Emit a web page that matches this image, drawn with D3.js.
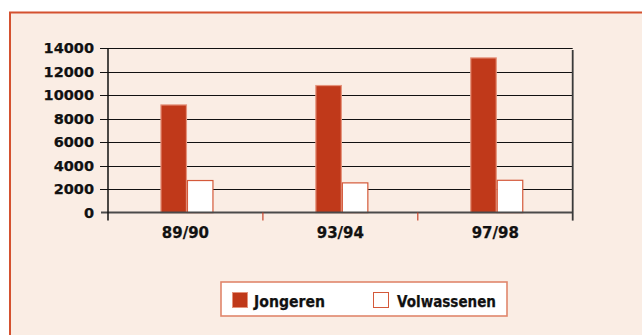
<!DOCTYPE html>
<html>
<head>
<meta charset="utf-8">
<script src="https://cdn.jsdelivr.net/npm/d3@7"></script>
<style>
  html, body { margin: 0; padding: 0; background: #ffffff; }
  svg { display: block; }
  text { font-family: "DejaVu Sans", sans-serif; font-weight: bold; fill: #111; }
</style>
</head>
<body>
<svg id="chart" width="642" height="335"></svg>
<script>
// Periods on the x axis
const periods = ["89/90", "93/94", "97/98"];
// Series names
const seriesNames = ["Jongeren", "Volwassenen"];
// Values per period
const jongeren = [9200, 10850, 13200];
const volwassenen = [2770, 2570, 2790];
// Y axis ticks
const yTicks = [0, 2000, 4000, 6000, 8000, 10000, 12000, 14000];

const svg = d3.select("#chart");

const colors = { Jongeren: "#C0391A", Volwassenen: "#FFFFFF" };
const strokes = { Jongeren: "#E5937C", Volwassenen: "#D4593A" };

// Panel background and frame
svg.append("rect")
  .attr("x", 10).attr("y", 12.5)
  .attr("width", 700).attr("height", 400)
  .attr("fill", "#FAEDE4")
  .attr("stroke", "#D4512F")
  .attr("stroke-width", 2);

const plot = { left: 108, right: 572.7, top: 48, bottom: 212.6 };

const x0 = d3.scaleBand().domain(periods).range([plot.left, plot.right]);
const barW = 26.5;
const x1 = d3.scaleBand().domain(seriesNames).range([x0.bandwidth() / 2 - barW + 1.5, x0.bandwidth() / 2 + barW + 1.5]);
const y = d3.scaleLinear().domain([0, 14000]).range([plot.bottom, plot.top]);

// Horizontal gridlines with left tick marks
svg.append("g")
  .selectAll("line")
  .data(yTicks.filter(d => d !== 0))
  .join("line")
  .attr("x1", plot.left - 8).attr("x2", plot.right)
  .attr("y1", d => Math.round(y(d)) + 0.5).attr("y2", d => Math.round(y(d)) + 0.5)
  .attr("stroke", "#111").attr("stroke-width", 1.2);

// Y axis labels
svg.append("g")
  .selectAll("text")
  .data(yTicks)
  .join("text")
  .attr("x", 94)
  .attr("y", d => y(d) + 5)
  .attr("text-anchor", "end")
  .attr("font-size", 14.5)
  .attr("stroke", "#111").attr("stroke-width", 0.25)
  .text(d => d);

// Bars
const rows = periods.map((p, i) => ({ period: p, Jongeren: jongeren[i], Volwassenen: volwassenen[i] }));
const groups = svg.append("g").selectAll("g")
  .data(rows)
  .join("g")
  .attr("transform", d => `translate(${x0(d.period)},0)`);

groups.selectAll("rect")
  .data(d => seriesNames.map(s => ({ key: s, value: d[s] })))
  .join("rect")
  .attr("x", d => x1(d.key) + 0.5)
  .attr("y", d => y(d.value) + 0.5)
  .attr("width", x1.bandwidth() - 1)
  .attr("height", d => plot.bottom - y(d.value) - 0.5)
  .attr("fill", d => colors[d.key])
  .attr("stroke", d => strokes[d.key])
  .attr("stroke-width", 1.2);

// Baseline (zero)
svg.append("line")
  .attr("x1", plot.left - 7).attr("x2", plot.right)
  .attr("y1", plot.bottom).attr("y2", plot.bottom)
  .attr("stroke", "#4a4a4a").attr("stroke-width", 2);

// Category separator ticks
svg.append("g").selectAll("line")
  .data(periods.slice(1))
  .join("line")
  .attr("x1", d => x0(d)).attr("x2", d => x0(d))
  .attr("y1", plot.bottom).attr("y2", plot.bottom + 8)
  .attr("stroke", "#C8442A").attr("stroke-width", 1.2);

// Left and right axes
svg.append("line")
  .attr("x1", plot.left).attr("x2", plot.left)
  .attr("y1", plot.top + 1).attr("y2", plot.bottom + 8)
  .attr("stroke", "#111").attr("stroke-width", 1.5);
svg.append("line")
  .attr("x1", plot.right).attr("x2", plot.right)
  .attr("y1", plot.top + 2).attr("y2", plot.bottom + 8)
  .attr("stroke", "#3a3a3a").attr("stroke-width", 1.8);

// Category labels
svg.append("g").selectAll("text")
  .data(periods)
  .join("text")
  .attr("x", d => x0(d) + x0.bandwidth() / 2)
  .attr("y", 238)
  .attr("text-anchor", "middle")
  .attr("font-size", 15)
  .attr("stroke", "#111").attr("stroke-width", 0.25)
  .text(d => d);

// Legend
const legend = svg.append("g");
legend.append("rect")
  .attr("x", 221).attr("y", 282)
  .attr("width", 286).attr("height", 34)
  .attr("fill", "#FFFFFF")
  .attr("stroke", "#E0866C").attr("stroke-width", 1.6);

const legendItems = [
  { key: "Jongeren", sx: 232, tx: 254, tw: 71 },
  { key: "Volwassenen", sx: 373, tx: 397, tw: 99 }
];
legendItems.forEach(it => {
  legend.append("rect")
    .attr("x", it.sx + 0.5).attr("y", 292.5)
    .attr("width", 15).attr("height", 15)
    .attr("fill", colors[it.key])
    .attr("stroke", strokes[it.key]).attr("stroke-width", 1);
  legend.append("text")
    .attr("x", it.tx).attr("y", 306.5)
    .attr("font-size", 15.5)
    .attr("stroke", "#111").attr("stroke-width", 0.25)
    .attr("textLength", it.tw)
    .attr("lengthAdjust", "spacingAndGlyphs")
    .text(it.key);
});
</script>
</body>
</html>
